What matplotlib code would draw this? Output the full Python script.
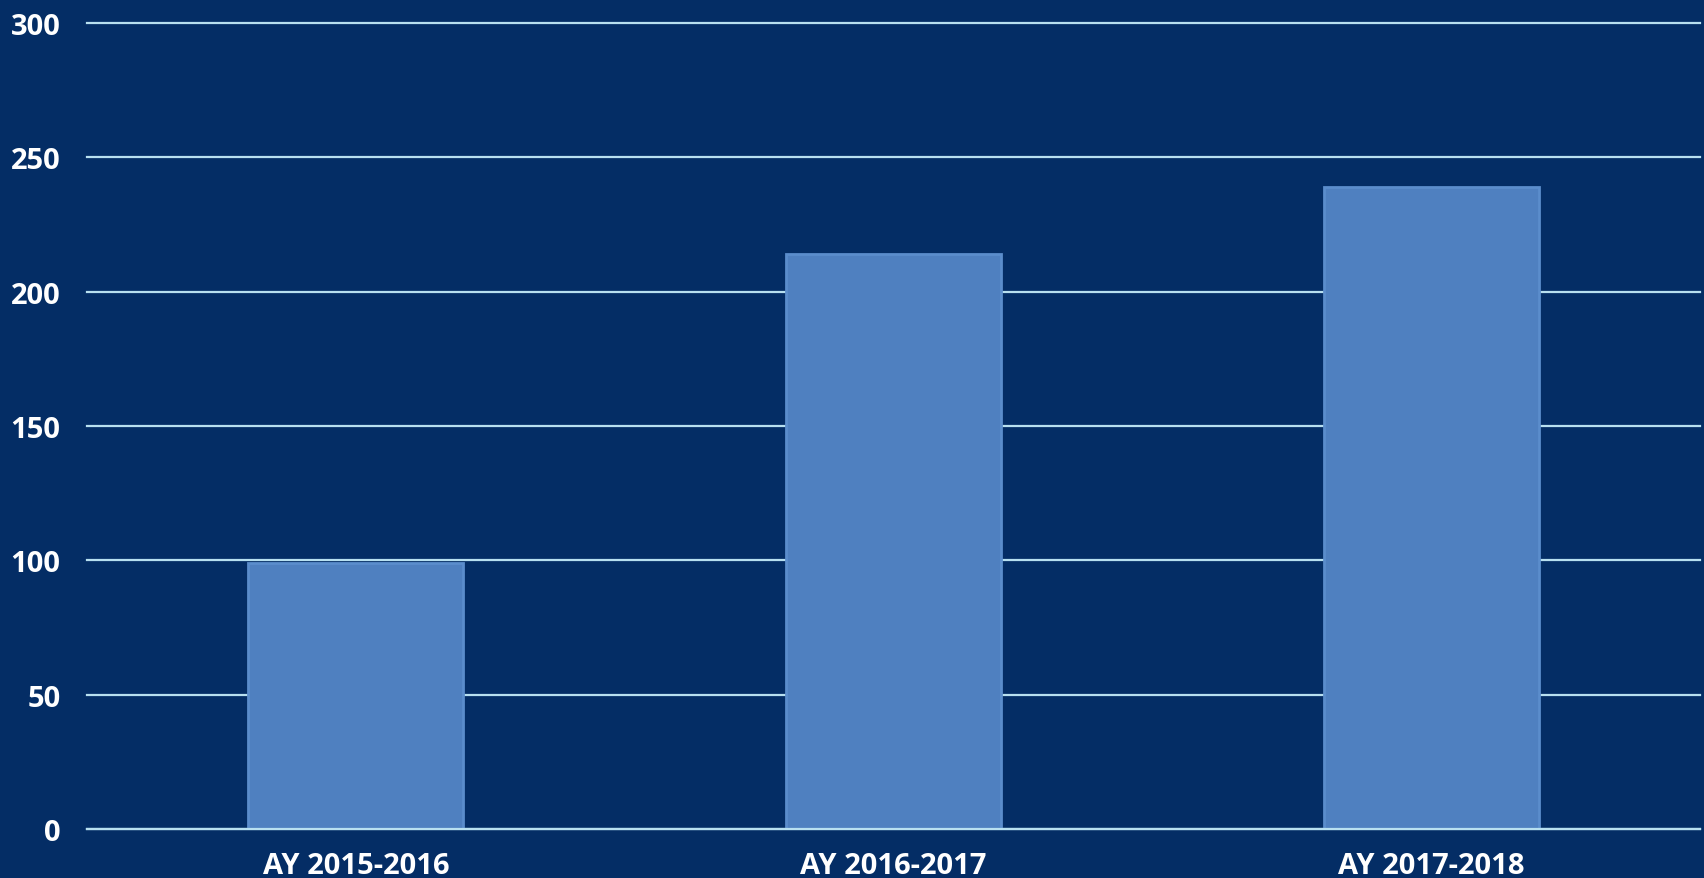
import matplotlib
matplotlib.use('Agg')
import matplotlib.pyplot as plt

# Данные
years = ['AY 2015-2016', 'AY 2016-2017', 'AY 2017-2018']
counts = [99, 214, 239]
y_ticks = [0, 50, 100, 150, 200, 250, 300]

bg = '#042D65'
bar_color = '#4F80C0'
grid_color = '#B8E0F0'

fig = plt.figure(figsize=(17.04, 8.79), dpi=100, facecolor=bg)
ax = fig.add_axes([87 / 1704, 49 / 879, 1613 / 1704, 806 / 879])
ax.set_facecolor(bg)

ax.bar(range(len(years)), counts, width=0.4, color=bar_color,
       edgecolor='#5B8DCC', linewidth=2, zorder=2)

ax.set_xlim(-0.5, len(years) - 0.5)
ax.set_ylim(0, 300)
ax.set_yticks(y_ticks)
ax.set_xticks(range(len(years)))
ax.set_xticklabels(years)

#Сетка
ax.yaxis.grid(True, color=grid_color, linewidth=1.6, zorder=1)
ax.set_axisbelow(True)
for line in ax.get_ygridlines():
    line.set_clip_on(False)

for s in ['top', 'right', 'left']:
    ax.spines[s].set_visible(False)
ax.spines['bottom'].set_color(grid_color)
ax.spines['bottom'].set_linewidth(1.6)
ax.spines['bottom'].set_zorder(3)

ax.tick_params(axis='both', length=0, colors='white')
ax.tick_params(axis='y', pad=19)
ax.tick_params(axis='x', pad=16)
for lab in ax.get_yticklabels() + ax.get_xticklabels():
    lab.set_fontfamily('Open Sans')
    lab.set_fontweight('bold')
    lab.set_fontsize(21)
    lab.set_color('white')

fig.savefig('out.png', dpi=100, facecolor=bg)
